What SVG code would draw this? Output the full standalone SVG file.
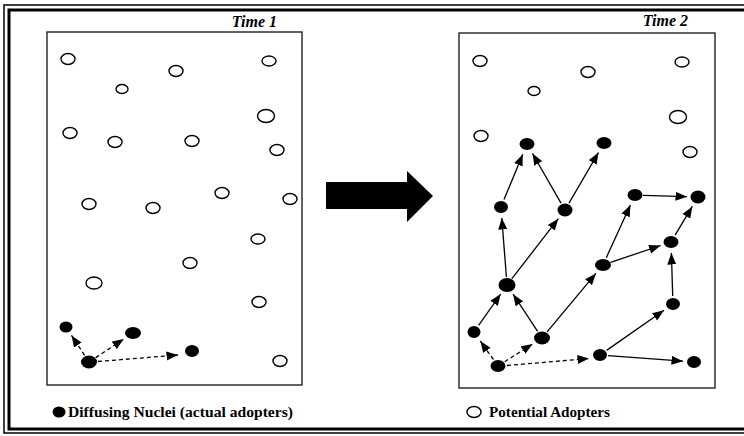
<svg xmlns="http://www.w3.org/2000/svg" width="744" height="436" viewBox="0 0 744 436">
<style>
.frame{fill:none;stroke:#000}
.panel{fill:none;stroke:#222;stroke-width:1.4}
.pa{fill:#fff;stroke:#000;stroke-width:1.4}
.dn{fill:#000;stroke:none}
.e{stroke:#000;stroke-width:1.3;fill:none;marker-end:url(#ah)}
.d{stroke-dasharray:4 3}
.title{font-family:"Liberation Serif","DejaVu Serif",serif;font-style:italic;font-weight:bold;font-size:16px;fill:#000}
.lg{font-family:"Liberation Serif","DejaVu Serif",serif;font-weight:bold;font-size:15.5px;fill:#000}
</style>
<defs>
<marker id="ah" markerUnits="userSpaceOnUse" markerWidth="12" markerHeight="10" refX="11.5" refY="5" orient="auto">
<path d="M0,0.5 L11.5,5 L0,9.5 Z" fill="#000"/>
</marker>
</defs>
<rect width="744" height="436" fill="#fff"/>
<g id="frame">
<rect class="frame" x="4" y="5" width="760" height="428" stroke-width="1.5"/>
<rect class="frame" x="9" y="10" width="760" height="419" stroke-width="3"/>
</g>
<g id="panel-time1">
<rect class="panel" x="47" y="32" width="255" height="353"/>
<text class="title" x="277" y="27" text-anchor="end">Time 1</text>
</g>
<g id="panel-time2">
<rect class="panel" x="459" y="33" width="256" height="355"/>
<text class="title" x="688" y="26" text-anchor="end">Time 2</text>
</g>
<g id="big-arrow">
<path d="M326,182 L407,182 L407,171 L433,196 L407,222 L407,209 L326,209 Z" fill="#000"/>
</g>
<g id="connectors">
<line class="e d" x1="84.6" y1="355.3" x2="71.5" y2="335.4"/>
<line class="e d" x1="95.7" y1="357.6" x2="123.8" y2="339.1"/>
<line class="e d" x1="98" y1="361.5" x2="178" y2="355"/>
<line class="e" x1="504" y1="199.6" x2="522.8" y2="154.2"/>
<line class="e" x1="561" y1="203.1" x2="532.5" y2="153.5"/>
<line class="e" x1="569" y1="203.1" x2="598.5" y2="152.5"/>
<line class="e" x1="643" y1="195.3" x2="687" y2="196.7"/>
<line class="e" x1="506.4" y1="277" x2="501.8" y2="218"/>
<line class="e" x1="511.9" y1="278.7" x2="558.3" y2="218.7"/>
<line class="e" x1="606.3" y1="257.7" x2="630.4" y2="205"/>
<line class="e" x1="675.1" y1="235.1" x2="692.3" y2="206.4"/>
<line class="e" x1="610.6" y1="262.4" x2="660.6" y2="245.5"/>
<line class="e" x1="672.7" y1="296" x2="671.4" y2="253"/>
<line class="e" x1="478.6" y1="325.4" x2="500.7" y2="294"/>
<line class="e" x1="537.6" y1="331.3" x2="513.1" y2="294.2"/>
<line class="e" x1="547.1" y1="331.9" x2="595.9" y2="273.4"/>
<line class="e" x1="606.6" y1="350.4" x2="664" y2="310.3"/>
<line class="e" x1="608" y1="355.6" x2="683" y2="361.2"/>
<line class="e d" x1="493.4" y1="359.5" x2="480.3" y2="341"/>
<line class="e d" x1="504.7" y1="361.7" x2="532.7" y2="343.9"/>
<line class="e d" x1="507" y1="365.5" x2="589" y2="358.5"/>
</g>
<g id="t1-potential">
<g id="t1p1"><ellipse class="pa" cx="68" cy="59" rx="7" ry="5.5"/></g>
<g id="t1p2"><ellipse class="pa" cx="176" cy="71" rx="7" ry="5.5"/></g>
<g id="t1p3"><ellipse class="pa" cx="122" cy="89" rx="6" ry="4.5"/></g>
<g id="t1p4"><ellipse class="pa" cx="269" cy="61" rx="7" ry="5"/></g>
<g id="t1p5"><ellipse class="pa" cx="266" cy="116" rx="8.5" ry="6.5"/></g>
<g id="t1p6"><ellipse class="pa" cx="70" cy="133" rx="7" ry="5.5"/></g>
<g id="t1p7"><ellipse class="pa" cx="115" cy="142" rx="7" ry="5.5"/></g>
<g id="t1p8"><ellipse class="pa" cx="192" cy="141" rx="7" ry="5.5"/></g>
<g id="t1p9"><ellipse class="pa" cx="277" cy="150" rx="7" ry="5.5"/></g>
<g id="t1p10"><ellipse class="pa" cx="89" cy="204" rx="7" ry="5.5"/></g>
<g id="t1p11"><ellipse class="pa" cx="153" cy="208" rx="7" ry="5.5"/></g>
<g id="t1p12"><ellipse class="pa" cx="222" cy="193" rx="7" ry="5.5"/></g>
<g id="t1p13"><ellipse class="pa" cx="290" cy="199" rx="7" ry="5.5"/></g>
<g id="t1p14"><ellipse class="pa" cx="258" cy="239" rx="7" ry="5"/></g>
<g id="t1p15"><ellipse class="pa" cx="190" cy="263" rx="7" ry="5.5"/></g>
<g id="t1p16"><ellipse class="pa" cx="94" cy="283" rx="8" ry="6"/></g>
<g id="t1p17"><ellipse class="pa" cx="259" cy="302" rx="7" ry="5.5"/></g>
<g id="t1p18"><ellipse class="pa" cx="280" cy="361" rx="7" ry="5.5"/></g>
</g>
<g id="t1-nuclei">
<g id="t1n1"><ellipse class="dn" cx="66" cy="327" rx="6.5" ry="5.5"/></g>
<g id="t1n2"><ellipse class="dn" cx="133" cy="333" rx="8" ry="6"/></g>
<g id="t1n3"><ellipse class="dn" cx="192" cy="351" rx="7" ry="6"/></g>
<g id="t1n4"><ellipse class="dn" cx="89" cy="362" rx="8" ry="6.5"/></g>
</g>
<g id="t2-potential">
<g id="t2p1"><ellipse class="pa" cx="480" cy="61" rx="7" ry="5.5"/></g>
<g id="t2p2"><ellipse class="pa" cx="534" cy="91" rx="6" ry="4.5"/></g>
<g id="t2p3"><ellipse class="pa" cx="588" cy="72" rx="7" ry="5.5"/></g>
<g id="t2p4"><ellipse class="pa" cx="682" cy="62" rx="7" ry="5"/></g>
<g id="t2p5"><ellipse class="pa" cx="678" cy="117" rx="8.5" ry="6.5"/></g>
<g id="t2p6"><ellipse class="pa" cx="481" cy="136" rx="7" ry="5.5"/></g>
<g id="t2p7"><ellipse class="pa" cx="690" cy="152" rx="7" ry="5.5"/></g>
</g>
<g id="t2-nuclei">
<g id="t2n1"><ellipse class="dn" cx="527" cy="144" rx="7.5" ry="6"/></g>
<g id="t2n2"><ellipse class="dn" cx="604" cy="143" rx="7.5" ry="6"/></g>
<g id="t2n3"><ellipse class="dn" cx="501" cy="207" rx="7" ry="6"/></g>
<g id="t2n4"><ellipse class="dn" cx="565" cy="210" rx="7.5" ry="6.5"/></g>
<g id="t2n5"><ellipse class="dn" cx="635" cy="195" rx="7.5" ry="6"/></g>
<g id="t2n6"><ellipse class="dn" cx="698" cy="197" rx="7.5" ry="6.5"/></g>
<g id="t2n7"><ellipse class="dn" cx="671" cy="242" rx="7.5" ry="6"/></g>
<g id="t2n8"><ellipse class="dn" cx="603" cy="265" rx="8" ry="6"/></g>
<g id="t2n9"><ellipse class="dn" cx="507" cy="285" rx="8.5" ry="7"/></g>
<g id="t2n10"><ellipse class="dn" cx="673" cy="304" rx="7" ry="6"/></g>
<g id="t2n11"><ellipse class="dn" cx="474" cy="332" rx="6.5" ry="6"/></g>
<g id="t2n12"><ellipse class="dn" cx="542" cy="338" rx="8" ry="6.5"/></g>
<g id="t2n13"><ellipse class="dn" cx="600" cy="355" rx="7" ry="6"/></g>
<g id="t2n14"><ellipse class="dn" cx="498" cy="366" rx="7.5" ry="6"/></g>
<g id="t2n15"><ellipse class="dn" cx="694" cy="362" rx="7" ry="6"/></g>
</g>
<g id="legend-nuclei">
<ellipse class="dn" cx="59" cy="412" rx="6.5" ry="5.5"/>
<text class="lg" x="68" y="417" textLength="225" lengthAdjust="spacingAndGlyphs">Diffusing Nuclei (actual adopters)</text>
</g>
<g id="legend-potential">
<ellipse class="pa" cx="474" cy="412" rx="7" ry="5.5"/>
<text class="lg" x="489" y="417" textLength="121" lengthAdjust="spacingAndGlyphs">Potential Adopters</text>
</g>
</svg>
